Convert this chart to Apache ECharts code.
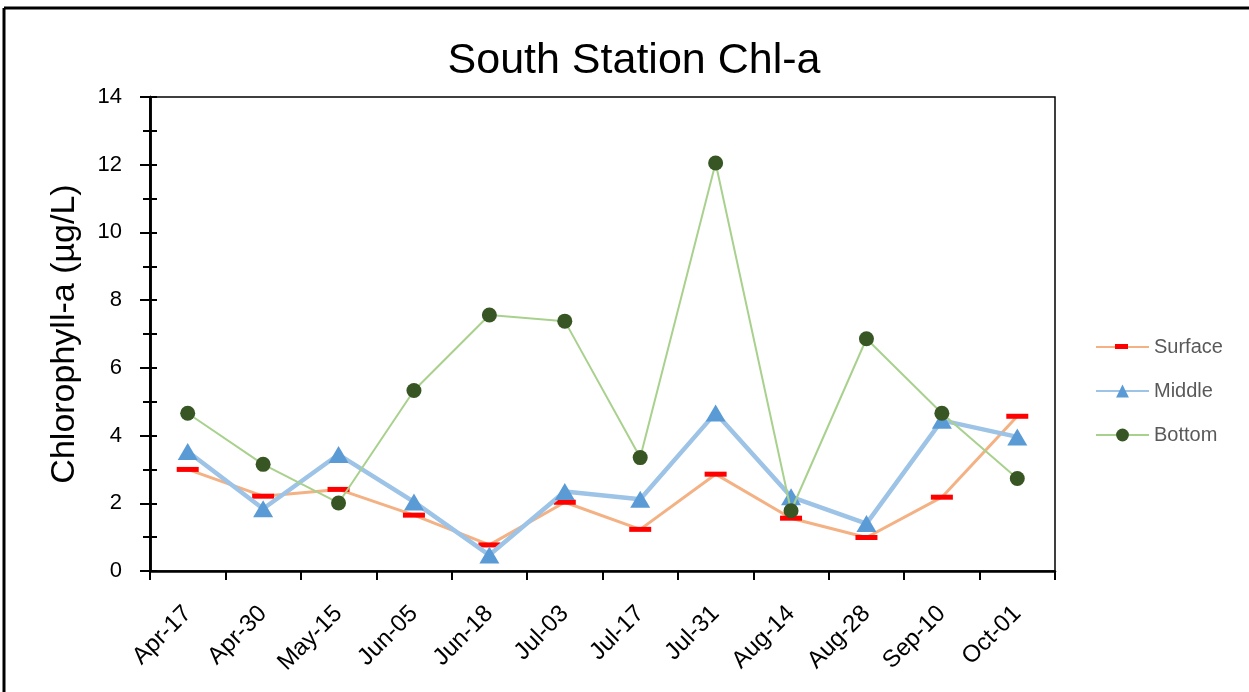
<!DOCTYPE html>
<html>
<head>
<meta charset="utf-8">
<script src="https://cdn.jsdelivr.net/npm/echarts@6/dist/echarts.min.js"></script>
<style>
  html, body { margin: 0; padding: 0; background: #fff; }
  #chart { width: 1249px; height: 692px; }
</style>
</head>
<body>
<div id="chart"></div>
<script>
// Sampling dates
const dates = ['Apr-17', 'Apr-30', 'May-15', 'Jun-05', 'Jun-18', 'Jul-03',
               'Jul-17', 'Jul-31', 'Aug-14', 'Aug-28', 'Sep-10', 'Oct-01'];

// Chlorophyll-a (µg/L) by depth
const surface = [3.00, 2.21, 2.41, 1.65, 0.77, 2.03, 1.23, 2.86, 1.56, 0.99, 2.18, 4.57];
const middle  = [3.53, 1.84, 3.44, 2.04, 0.47, 2.35, 2.12, 4.67, 2.19, 1.40, 4.45, 3.96];
const bottom  = [4.66, 3.15, 2.01, 5.33, 7.56, 7.38, 3.35, 12.05, 1.78, 6.86, 4.66, 2.73];

const yMin = 0, yMax = 14, yStep = 2;

const FONT = 'Liberation Sans';

// short horizontal bar used as the surface marker
const DASH = 'path://M0,0H26V10H0Z';

const chart = echarts.init(document.getElementById('chart'), null, { renderer: 'canvas' });

const LEGEND_LEFT = 1095, LEGEND_TOP = 337, ICON_W = 53, ICON_H = 16, ROW_GAP = 24;
const INNER_TICK = 7;
const PLOT = { left: 150, right: 194, top: 97, bottom: 121 };

chart.setOption({
  animation: false,
  backgroundColor: '#ffffff',
  title: {
    text: 'South Station Chl-a',
    left: 629, top: 35, textAlign: 'center',
    textStyle: { fontFamily: FONT, fontSize: 43, fontWeight: 'normal', color: '#000' }
  },
  graphic: [
    // chart frame (left and top edges)
    { type: 'line', shape: { x1: 4, y1: 8, x2: 4, y2: 700 }, style: { stroke: '#000', lineWidth: 3 } },
    { type: 'line', shape: { x1: 4, y1: 8, x2: 1260, y2: 8 }, style: { stroke: '#000', lineWidth: 3 } }
  ],
  grid: [
    Object.assign({ show: true, borderColor: '#000', borderWidth: 1.5, backgroundColor: 'transparent' }, PLOT),
    // twin of the plot area, carrying the inner half of the y tick marks
    Object.assign({ show: false }, PLOT)
  ],
  legend: [
    {
      orient: 'vertical', left: LEGEND_LEFT, top: LEGEND_TOP, padding: 0,
      itemWidth: ICON_W, itemHeight: ICON_H, itemGap: ROW_GAP,
      textStyle: { fontFamily: FONT, fontSize: 20, color: '#595959' },
      data: [
        // the surface dash is drawn by the overlay legend below
        { name: 'Surface', itemStyle: { opacity: 0 } },
        'Middle', 'Bottom'
      ]
    },
    {
      // flat red dash centred on the surface legend line
      orient: 'vertical', left: LEGEND_LEFT + (ICON_W - 13) / 2, top: LEGEND_TOP + (ICON_H - 5) / 2 + 1.5,
      padding: 0, itemWidth: 13, itemHeight: 5,
      selectedMode: false,
      formatter: () => '',
      textStyle: { fontSize: 1 },
      data: [{ name: 'Surface', icon: DASH, itemStyle: { color: '#FF0000', opacity: 1 } }]
    }
  ],
  xAxis: [
    {
      type: 'category', data: dates, boundaryGap: true, gridIndex: 0,
      axisLine: { lineStyle: { color: '#000', width: 2.5 } },
      axisTick: { show: true, length: 9, lineStyle: { color: '#000', width: 2 } },
      axisLabel: { rotate: 45, margin: 39, fontFamily: FONT, fontSize: 24, color: '#000' }
    },
    {
      type: 'category', data: dates, boundaryGap: true, gridIndex: 1,
      axisLine: { show: false }, axisTick: { show: false }, axisLabel: { show: false }
    }
  ],
  yAxis: [
    {
      type: 'value', min: yMin, max: yMax, interval: yStep, gridIndex: 0,
      splitLine: { show: false },
      name: 'Chlorophyll-a (µg/L)', nameLocation: 'middle', nameGap: 68,
      nameTextStyle: { fontFamily: FONT, fontSize: 34, color: '#000' },
      axisLine: { show: true, lineStyle: { color: '#000', width: 2.5 } },
      axisTick: { show: true, length: 10, lineStyle: { color: '#000', width: 2 } },
      minorTick: { show: true, splitNumber: 2, length: 7, lineStyle: { color: '#000', width: 2 } },
      minorSplitLine: { show: false },
      axisLabel: { margin: 28, fontFamily: FONT, fontSize: 22, color: '#000' }
    },
    {
      type: 'value', min: yMin, max: yMax, interval: yStep, gridIndex: 1,
      position: 'left',
      splitLine: { show: false },
      minorSplitLine: { show: false },
      axisLine: { show: true, lineStyle: { color: '#000', width: 2.5 } },
      axisTick: { show: true, inside: true, length: INNER_TICK, lineStyle: { color: '#000', width: 2 } },
      minorTick: { show: true, splitNumber: 2, length: INNER_TICK, lineStyle: { color: '#000', width: 2 } },
      axisLabel: { show: false }
    }
  ],
  series: [
    {
      name: 'Surface', type: 'line', data: surface,
      lineStyle: { color: '#F4B183', width: 3 },
      itemStyle: { color: '#FF0000' },
      symbol: DASH, symbolSize: [22, 5],
      z: 2
    },
    {
      name: 'Middle', type: 'line', data: middle,
      lineStyle: { color: '#9DC3E6', width: 4.5 },
      itemStyle: { color: '#5B9BD5' },
      symbol: 'triangle', symbolSize: [20, 17],
      z: 3
    },
    {
      name: 'Bottom', type: 'line', data: bottom,
      lineStyle: { color: '#A9D18E', width: 2 },
      itemStyle: { color: '#375623' },
      symbol: 'circle', symbolSize: 15,
      z: 4
    }
  ]
});
</script>
</body>
</html>
